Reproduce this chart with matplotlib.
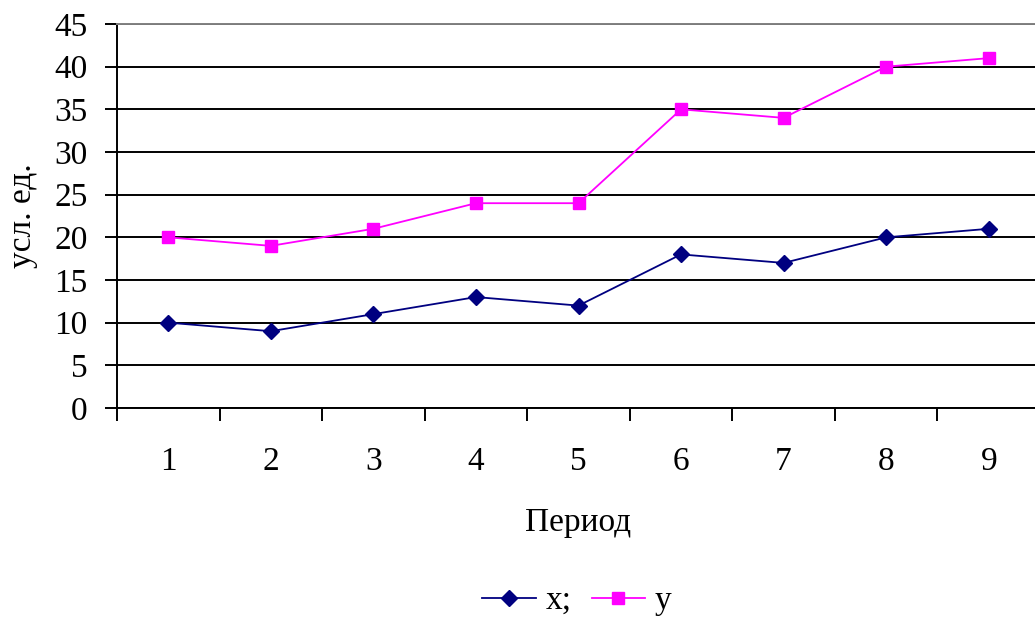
import matplotlib
matplotlib.use("Agg")
import matplotlib.pyplot as plt
import numpy as np

periods = ["1", "2", "3", "4", "5", "6", "7", "8", "9"]
x_vals = [10, 9, 11, 13, 12, 18, 17, 20, 21]
y_vals = [20, 19, 21, 24, 24, 35, 34, 40, 41]
yticks = [0, 5, 10, 15, 20, 25, 30, 35, 40, 45]

plt.rcParams['font.family'] = ['Liberation Serif', 'DejaVu Serif']

fig = plt.figure(figsize=(10.35, 6.17), dpi=100)
ax = fig.add_axes([117/1035, 1-408/617, 923/1035, 384/617])

pos = np.arange(len(periods))
ax.plot(pos, x_vals, color='#000080', lw=1.3, marker='D', ms=8.3, label='x;', clip_on=False, zorder=3)
ax.plot(pos, y_vals, color='#FF00FF', lw=1.3, marker='s', ms=9.2, label='y', clip_on=False, zorder=3)

ax.set_xlim(-0.5, len(periods) - 0.5)
ax.set_ylim(0, 45)
ax.set_yticks(yticks)
ax.set_yticklabels([str(t) for t in yticks])
ax.yaxis.grid(True, color='black', lw=1.4)
ax.set_axisbelow(True)

ax.set_xticks(pos)
ax.set_xticklabels(periods)
ax.set_xticks(np.arange(-0.5, len(periods)), minor=True)
ax.tick_params(axis='x', which='major', length=0, pad=28, labelsize=24)
ax.tick_params(axis='x', which='minor', length=9, width=1.4, direction='out')
ax.tick_params(axis='y', length=9, width=1.4, pad=12, labelsize=24)

for s in ['left', 'bottom']:
    ax.spines[s].set_color('black')
    ax.spines[s].set_linewidth(1.4)
ax.spines['top'].set_color('#808080')
ax.spines['top'].set_linewidth(1.4)
ax.spines['right'].set_visible(False)

ax.set_xlabel('Период', fontsize=24, labelpad=22)
ax.set_ylabel('усл. ед.', fontsize=24, labelpad=12)

fig.legend(loc='center', bbox_to_anchor=(577/1035, 1-601/617), ncol=2, frameon=False,
           fontsize=24, handlelength=1.6, handletextpad=0.3, columnspacing=0.6,
           borderpad=0, borderaxespad=0)

fig.savefig('out.png', dpi=100)
